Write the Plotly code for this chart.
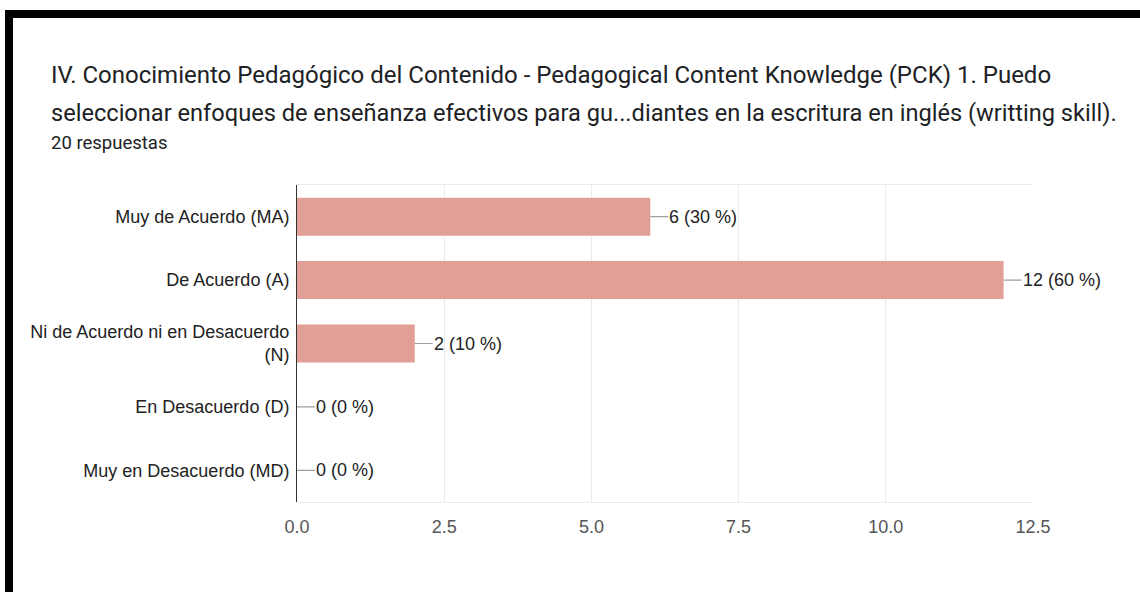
import plotly.graph_objects as go

categories = ["Muy de Acuerdo (MA)", "De Acuerdo (A)", "Ni de Acuerdo ni en Desacuerdo<br>(N)",
              "En Desacuerdo (D)", "Muy en Desacuerdo (MD)"]
counts = [6, 12, 2, 0, 0]
percents = [30, 60, 10, 0, 0]
tick_vals = [0, 2.5, 5, 7.5, 10, 12.5]
tick_text = ["0.0", "2.5", "5.0", "7.5", "10.0", "12.5"]
title_line1 = "IV. Conocimiento Pedagógico del Contenido - Pedagogical Content Knowledge (PCK) 1. Puedo"
title_line2 = "seleccionar enfoques de enseñanza efectivos para gu...diantes en la escritura en inglés (writting skill)."
subtitle = "20 respuestas"

W, H = 1140, 592
L, R, T, B = 297, 107, 185, 90
pw, ph = W - L - R, H - T - B

def px(x):
    return (x - L) / pw

def py(y):
    return (H - B - y) / ph

fig = go.Figure()
fig.add_trace(go.Bar(
    x=counts, y=categories, orientation="h",
    marker=dict(color="#E19F96", line=dict(width=0)),
    hoverinfo="skip",
))

annotations = []
for c, p, cat in zip(counts, percents, categories):
    annotations.append(dict(
        x=c, y=cat, xref="x", yref="y",
        text=f"{c} ({p} %)", showarrow=True, arrowhead=0, arrowwidth=1.2,
        arrowcolor="#9e9e9e", ax=18, ay=0, xanchor="left", standoff=0,
        borderpad=0,
        font=dict(family="Liberation Sans, Arial", size=18, color="#222222"),
    ))

annotations += [
    dict(x=px(49), y=py(75), xref="paper", yref="paper", xanchor="left", yanchor="middle",
         text=title_line1, showarrow=False,
         font=dict(family="Roboto", size=24, color="#202124")),
    dict(x=px(49), y=py(113), xref="paper", yref="paper", xanchor="left", yanchor="middle",
         text=title_line2, showarrow=False,
         font=dict(family="Roboto", size=23.6, color="#202124")),
    dict(x=px(49), y=py(143), xref="paper", yref="paper", xanchor="left", yanchor="middle",
         text=subtitle, showarrow=False,
         font=dict(family="Roboto", size=18.5, color="#202124")),
]

shapes = [
    dict(type="rect", xref="paper", yref="paper", x0=px(5), x1=px(13), y0=py(592), y1=py(10),
         fillcolor="black", line=dict(width=0), layer="above"),
    dict(type="rect", xref="paper", yref="paper", x0=px(5), x1=px(1140), y0=py(18), y1=py(10),
         fillcolor="black", line=dict(width=0), layer="above"),
]

fig.update_layout(
    width=W, height=H,
    margin=dict(l=L, r=R, t=T, b=B),
    paper_bgcolor="white", plot_bgcolor="white",
    showlegend=False,
    bargap=0.4,
    annotations=annotations,
    shapes=shapes,
    xaxis=dict(range=[0, 12.5], tickvals=tick_vals, ticktext=tick_text,
               showgrid=True, gridcolor="#ebebeb", gridwidth=1,
               zeroline=False, showline=True, linecolor="#ebebeb", mirror=True,
               tickfont=dict(family="Liberation Sans, Arial", size=18, color="#555555"),
               ticks="", ticklabelstandoff=8, fixedrange=True),
    yaxis=dict(autorange="reversed", showgrid=False, zeroline=False,
               showline=True, linecolor="#333333", linewidth=1,
               tickfont=dict(family="Liberation Sans, Arial", size=18, color="#222222"),
               ticks="", ticklabelstandoff=3, fixedrange=True),
)

fig.write_html("out.html", config={"displayModeBar": False},
               post_script="document.body.style.margin='0';")
